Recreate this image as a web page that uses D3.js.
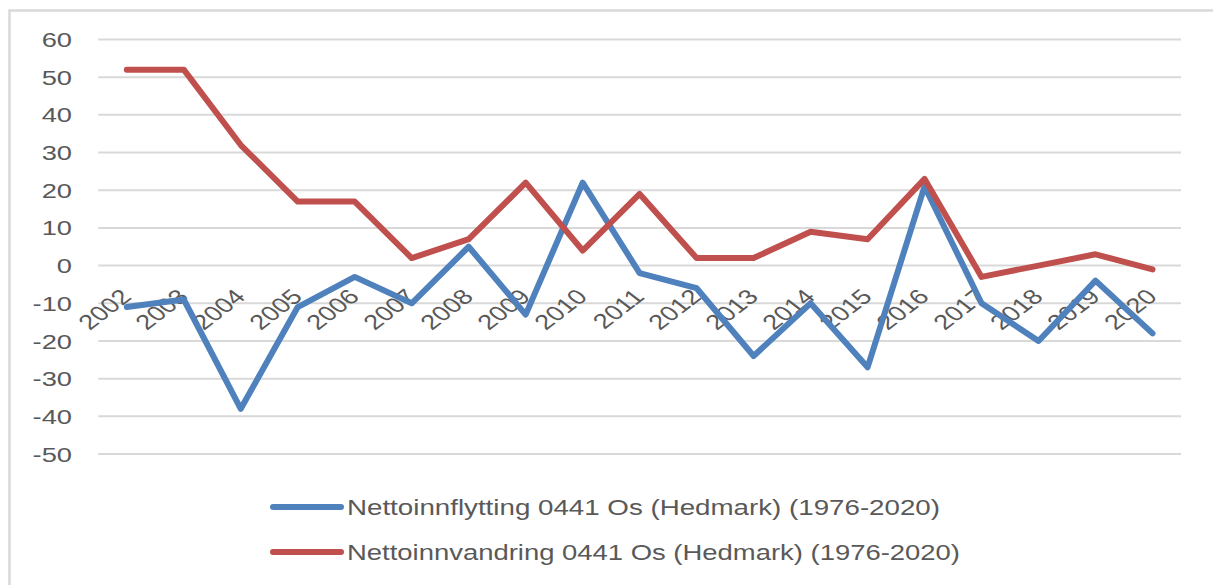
<!DOCTYPE html>
<html>
<head>
<meta charset="utf-8">
<script src="https://cdn.jsdelivr.net/npm/d3@7"></script>
<style>
  html, body { margin: 0; padding: 0; background: #fff; }
  svg { display: block; }
  text { font-family: "Liberation Sans", Arial, sans-serif; fill: #595959; }
</style>
</head>
<body>
<svg id="chart" width="1213" height="585"></svg>
<script>
const years = ["2002","2003","2004","2005","2006","2007","2008","2009","2010","2011",
               "2012","2013","2014","2015","2016","2017","2018","2019","2020"];
const nettoinnflytting = [-11,-9,-38,-11,-3,-10,5,-13,22,-2,-6,-24,-10,-27,21,-10,-20,-4,-18];
const nettoinnvandring = [52,52,32,17,17,2,7,22,4,19,2,2,9,7,23,-3,0,3,-1];
const yTicks = [60,50,40,30,20,10,0,-10,-20,-30,-40,-50];
const seriesNames = ["Nettoinnflytting 0441 Os (Hedmark) (1976-2020)",
                     "Nettoinnvandring 0441 Os (Hedmark) (1976-2020)"];
const seriesColors = ["#4f81bd", "#c0504d"];

const svg = d3.select("#chart");
const stretch = 1.3;

// outer frame
svg.append("rect")
  .attr("x", 9.5).attr("y", 10.5).attr("width", 1400).attr("height", 800)
  .attr("fill", "none").attr("stroke", "#d9d9d9").attr("stroke-width", 2.5);

const x = d3.scalePoint().domain(years).range([98.3, 1181]).padding(0.5);
const y = d3.scaleLinear().domain([-50, 60]).range([454, 39.5]);

// gridlines
svg.append("g").selectAll("line").data(yTicks).join("line")
  .attr("x1", 98.3).attr("x2", 1181)
  .attr("y1", d => y(d)).attr("y2", d => y(d))
  .attr("stroke", "#d9d9d9").attr("stroke-width", 2);

// y labels
svg.append("g").selectAll("text").data(yTicks).join("text")
  .attr("transform", d => `translate(72,${y(d)}) scale(${stretch},1)`)
  .attr("text-anchor", "end").attr("dy", "0.36em")
  .style("font-size", "21px")
  .text(d => d);

// x labels (rotated)
svg.append("g").selectAll("text").data(years).join("text")
  .attr("transform", d => `translate(${x(d) + 6},298) scale(${stretch},1) rotate(-45)`)
  .attr("text-anchor", "end")
  .style("font-size", "21px")
  .text(d => d);

const line = d3.line().x((d, i) => x(years[i])).y(d => y(d));
[nettoinnflytting, nettoinnvandring].forEach((s, k) => {
  svg.append("path").datum(s)
    .attr("d", line)
    .attr("fill", "none")
    .attr("stroke", seriesColors[k])
    .attr("stroke-width", 6)
    .attr("stroke-linejoin", "round")
    .attr("stroke-linecap", "round");
});

// legend
const legendY = [507, 552];
const legendLen = [593, 613];
seriesNames.forEach((name, k) => {
  svg.append("line")
    .attr("x1", 273).attr("x2", 341)
    .attr("y1", legendY[k]).attr("y2", legendY[k])
    .attr("stroke", seriesColors[k]).attr("stroke-width", 6)
    .attr("stroke-linecap", "round");
  svg.append("text")
    .attr("x", 347).attr("y", legendY[k] + 8)
    .style("font-size", "22px")
    .attr("textLength", legendLen[k])
    .attr("lengthAdjust", "spacingAndGlyphs")
    .text(name);
});
</script>
</body>
</html>
